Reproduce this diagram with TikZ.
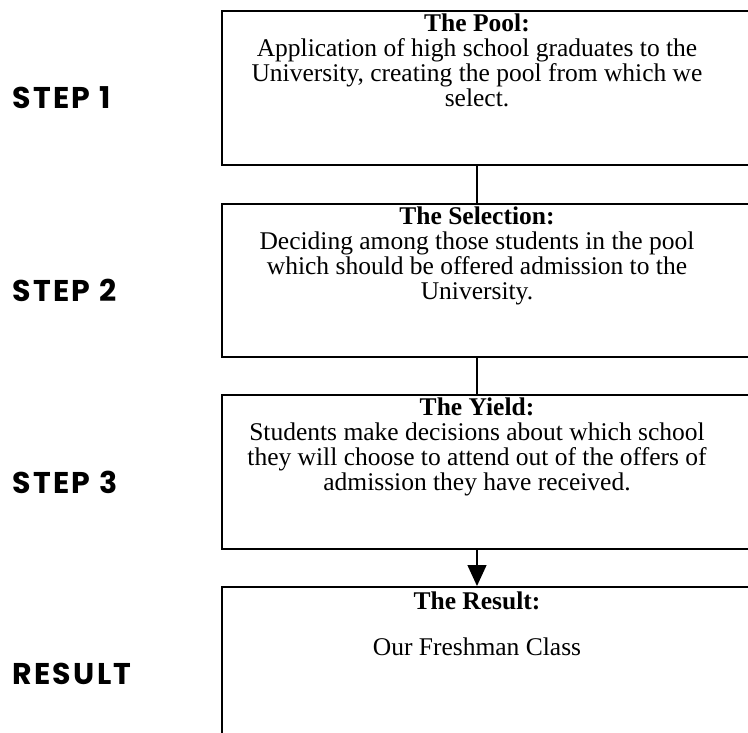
\documentclass[tikz,border=0pt]{standalone}
\usepackage{fontspec}
\setmainfont{Liberation Serif}
\newfontfamily\labelfont[LetterSpace=8]{Poppins}
\usetikzlibrary{arrows.meta}
\begin{document}
\begin{tikzpicture}[x=1pt,y=-1pt,
  stagebox/.style={draw,line width=1.8pt,anchor=north west,minimum width=560pt,inner sep=0pt},
  stagetext/.style={anchor=north,align=center,font=\fontsize{25.5}{25}\selectfont,inner sep=0pt},
  steplabel/.style={anchor=west,inner sep=0pt,font=\labelfont\bfseries\fontsize{30}{32}\selectfont},
  link/.style={line width=1.4pt}]
\useasboundingbox (0,0) rectangle (748,733);
\begin{scope}
\clip (0,0) rectangle (748,733);
% the four stages
\node[stagebox,minimum height=154pt] (pool) at (221,10) {};
\node[stagebox,minimum height=153pt] (sel) at (221,203) {};
\node[stagebox,minimum height=154pt] (yield) at (221,394) {};
\node[stagebox,minimum height=200pt] (res) at (221,586) {};
\end{scope}
% texts of the stages
\node[stagetext] (tpool) at (477,14) {\textbf{The Pool:}\\Application of high school graduates to the\\University, creating the pool from which we\\select.};
\node[stagetext] (tsel) at (477,207) {\textbf{The Selection:}\\Deciding among those students in the pool\\which should be offered admission to the\\University.};
\node[stagetext] (tyield) at (477,398) {\textbf{The Yield:}\\Students make decisions about which school\\they will choose to attend out of the offers of\\admission they have received.};
\node[stagetext] (tres) at (477,592) {\textbf{The Result:}\\[21pt]Our Freshman Class};
% step labels
\node[steplabel] (s1) at (12,98) {STEP 1};
\node[steplabel] (s2) at (12,290) {STEP 2};
\node[steplabel] (s3) at (12,482) {STEP 3};
\node[steplabel] (s4) at (12,674) {RESULT};
% connectors
\draw[link] (pool.south -| tpool) -- (sel.north -| tpool);
\draw[link] (sel.south -| tsel) -- (yield.north -| tsel);
\draw[link,-{Triangle[width=19pt,length=21pt]}] (yield.south -| tyield) -- (res.north -| tyield);
\end{tikzpicture}
\end{document}
